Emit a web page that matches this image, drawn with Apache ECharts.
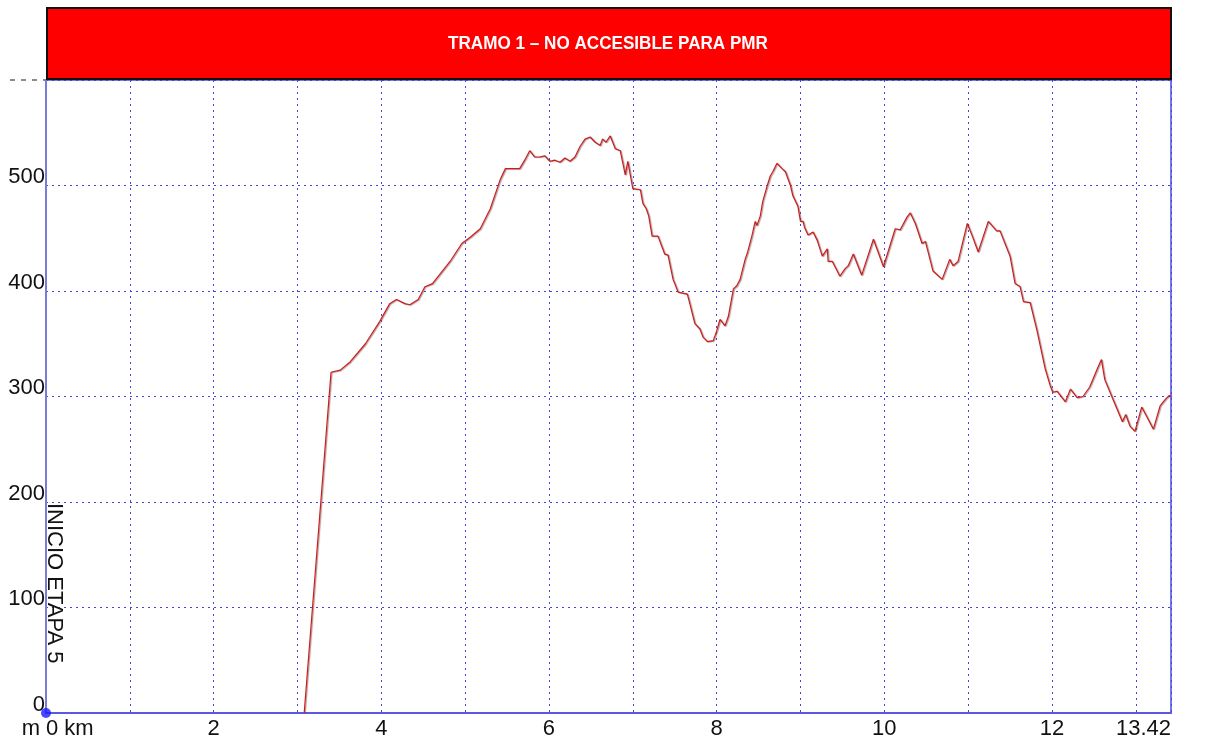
<!DOCTYPE html>
<html>
<head>
<meta charset="utf-8">
<script src="https://cdn.jsdelivr.net/npm/echarts@6/dist/echarts.min.js"></script>
<style>
html,body{margin:0;padding:0;background:#fff;}
#chart{width:1212px;height:742px;}
</style>
</head>
<body>
<div id="chart"></div>
<script>
// Distance (km) along the route
var distanceKm = [
  3.08, 3.40, 3.51, 3.63, 3.81, 3.98, 4.10, 4.18, 4.28, 4.34, 4.44, 4.52, 4.61, 4.70, 4.82, 4.96,
  5.06, 5.18, 5.30, 5.42, 5.48, 5.54, 5.65, 5.71, 5.77, 5.83, 5.89, 5.95, 6.01, 6.07, 6.13, 6.19,
  6.25, 6.31, 6.37, 6.43, 6.49, 6.55, 6.61, 6.64, 6.68, 6.73, 6.79, 6.85, 6.91, 6.94, 7.00, 7.09,
  7.12, 7.16, 7.19, 7.23, 7.30, 7.38, 7.42, 7.48, 7.54, 7.65, 7.68, 7.74, 7.80, 7.84, 7.89, 7.96,
  8.00, 8.04, 8.10, 8.14, 8.20, 8.24, 8.28, 8.34, 8.37, 8.42, 8.46, 8.48, 8.52, 8.55, 8.60, 8.64,
  8.67, 8.72, 8.78, 8.82, 8.88, 8.91, 8.97, 9.00, 9.03, 9.05, 9.09, 9.15, 9.20, 9.26, 9.32, 9.33,
  9.38, 9.47, 9.53, 9.57, 9.63, 9.73, 9.87, 9.99, 10.13, 10.19, 10.27, 10.31, 10.37, 10.45, 10.49, 10.58,
  10.69, 10.78, 10.82, 10.88, 10.99, 11.05, 11.12, 11.24, 11.34, 11.38, 11.50, 11.56, 11.58, 11.62, 11.66, 11.74,
  11.82, 11.92, 11.98, 12.01, 12.06, 12.16, 12.22, 12.30, 12.37, 12.45, 12.54, 12.59, 12.63, 12.73, 12.84, 12.88,
  12.93, 12.99, 13.07, 13.21, 13.29, 13.36, 13.40, 13.42
];
// Elevation (m)
var elevationM = [
  0, 323, 325, 333, 350, 371, 388, 392, 388, 387, 392, 404, 407, 416, 428, 445,
  451, 459, 478, 506, 516, 516, 516, 524, 533, 527, 527, 528, 523, 524, 522, 526,
  523, 527, 537, 544, 546, 541, 538, 544, 541, 547, 535, 533, 510, 523, 497, 496,
  483, 478, 471, 452, 452, 435, 434, 411, 399, 397, 388, 369, 364, 356, 352, 353,
  362, 373, 367, 376, 402, 405, 411, 430, 437, 452, 466, 462, 471, 485, 499, 509,
  513, 521, 516, 513, 500, 490, 480, 466, 466, 460, 453, 456, 448, 433, 440, 428,
  428, 414, 421, 424, 435, 415, 449, 423, 459, 458, 470, 474, 464, 445, 447, 419,
  411, 430, 424, 428, 464, 452, 437, 466, 457, 457, 433, 407, 407, 404, 390, 389,
  363, 326, 310, 304, 305, 295, 307, 299, 300, 309, 326, 335, 316, 297, 276, 283,
  272, 267, 290, 269, 291, 298, 301, 300
];
var startPoint = [[0, 0]];
var bannerText = 'TRAMO 1 \u2013 NO ACCESIBLE PARA PMR';
var startLabel = 'INICIO ETAPA 5';
var xMax = 13.42;
var yMax = 600;

var profile = distanceKm.map(function (d, i) { return [d, elevationM[i]]; });

var chart = echarts.init(document.getElementById('chart'), null, { renderer: 'canvas' });
var font = 'Liberation Sans, Arial, sans-serif';

chart.setOption({
  animation: false,
  backgroundColor: '#ffffff',
  grid: {
    left: 46, right: 41, top: 80, bottom: 29,
    containLabel: false,
    show: true,
    borderColor: '#4a4ae6',
    borderWidth: 1.5,
    backgroundColor: 'transparent'
  },
  xAxis: {
    type: 'value',
    min: 0,
    max: xMax,
    interval: 1,
    axisLine: { show: true, lineStyle: { color: '#5a5ae0', width: 2 } },
    axisTick: { show: false },
    splitLine: { show: true, lineStyle: { color: '#4646d6', type: [2, 4], width: 1 } },
    axisLabel: {
      interval: 0,
      margin: 5,
      color: '#111',
      fontSize: 22,
      fontFamily: font,
      showMinLabel: true,
      showMaxLabel: true,
      alignMinLabel: 'left',
      alignMaxLabel: 'right',
      formatter: function (v) {
        if (v === 0) return '0 km';
        if (Math.abs(v - xMax) < 1e-6) return String(xMax);
        if (Math.round(v) % 2 === 0) return String(Math.round(v));
        return '';
      }
    }
  },
  yAxis: {
    type: 'value',
    min: 0,
    max: yMax,
    interval: 100,
    name: 'm',
    nameLocation: 'start',
    nameGap: 5,
    nameTextStyle: { fontSize: 22, fontFamily: font, color: '#111', align: 'right', verticalAlign: 'top', padding: [0, 6, 0, 0] },
    axisLine: { show: true, lineStyle: { color: '#7a7ad8', width: 2 } },
    axisTick: { show: false },
    splitLine: { show: true, lineStyle: { color: '#4646d6', type: [2, 4], width: 1 } },
    axisLabel: {
      margin: 1,
      color: '#111',
      fontSize: 22,
      fontFamily: font,
      verticalAlign: 'bottom',
      lineHeight: 17,
      showMaxLabel: false
    }
  },
  series: [
    {
      type: 'line',
      data: profile,
      showSymbol: false,
      symbol: 'none',
      lineStyle: {
        color: '#cc1c1c',
        width: 1.2,
        shadowColor: 'rgba(110,70,70,0.6)',
        shadowBlur: 1,
        shadowOffsetX: 1,
        shadowOffsetY: 0.5
      },
      z: 3
    },
    {
      type: 'scatter',
      data: startPoint,
      symbol: 'circle',
      symbolSize: 10,
      clip: false,
      itemStyle: { color: '#1a1aff' },
      z: 5
    }
  ],
  graphic: [
    {
      type: 'rect',
      shape: { x: 47, y: 8, width: 1124, height: 71 },
      style: { fill: '#ff0000', stroke: '#111', lineWidth: 2 },
      z: 10
    },
    {
      type: 'text',
      x: 608, y: 44,
      scaleX: 0.95,
      style: {
        text: bannerText,
        fill: '#ffffff',
        font: 'bold 18px ' + font,
        align: 'center',
        verticalAlign: 'middle'
      },
      z: 11
    },
    {
      type: 'line',
      shape: { x1: 10, y1: 80, x2: 45, y2: 80 },
      style: { stroke: '#666', lineWidth: 1.5, lineDash: [5, 6] },
      z: 10
    },
    {
      type: 'text',
      x: 43, y: 503,
      rotation: -Math.PI / 2,
      style: {
        text: startLabel,
        fill: '#111',
        font: '22px ' + font,
        align: 'left',
        verticalAlign: 'bottom'
      },
      z: 10
    }
  ]
});
</script>
</body>
</html>
